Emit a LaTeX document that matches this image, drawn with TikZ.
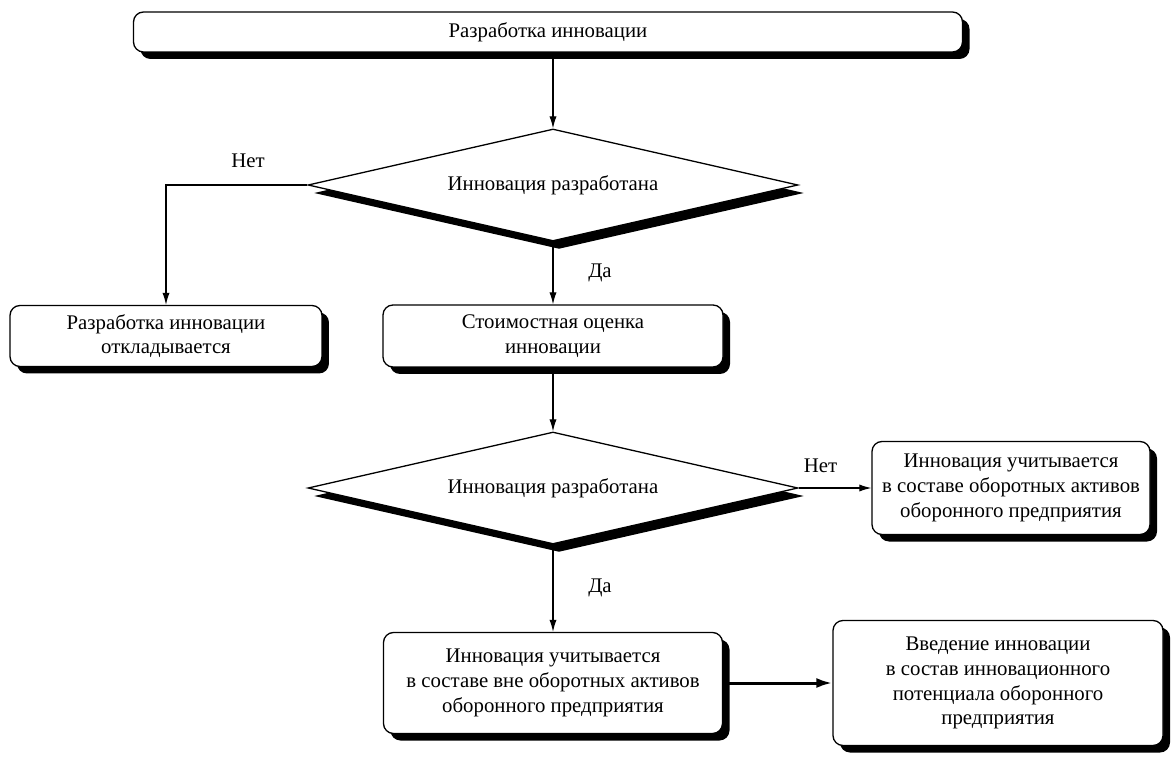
\documentclass[tikz,border=0pt]{standalone}
\usepackage{fontspec}
\setmainfont{Liberation Serif}
\usetikzlibrary{shapes.geometric}
\usetikzlibrary{shadows}
\usetikzlibrary{positioning}
\usetikzlibrary{arrows.meta}

\begin{document}
\begin{tikzpicture}[
            > = {Latex[length=6pt,width=3.6pt]}, % arrow head style
            line width = 0.6pt, % line style
            font = \fontsize{10.4}{12.4}\selectfont
        ]

        \tikzstyle{block}=[
            draw,
            line width = 0.65pt,
            fill = white,
            rounded corners = 5pt,
            align = center,
            drop shadow = {shadow xshift=3.5pt, shadow yshift=-3.5pt, opacity=1, fill=black}
        ]
        \tikzstyle{decision}=[
            draw,
            line width = 0.65pt,
            fill = white,
            diamond,
            aspect = 4.375,
            inner sep = 0pt,
            minimum width = 245pt,
            minimum height = 56pt,
            drop shadow = {shadow xshift=3pt, shadow yshift=-4pt, opacity=1, fill=black}
        ]

        \useasboundingbox (-276.5pt,92.5pt) rectangle (309pt,-287pt);

        % first check
        \node[decision] (D1) at (0,0) {Инновация разработана};
        \node[block, minimum width=414.5pt, minimum height=20pt] (Dev) [above of=D1, node distance=76.5pt, xshift=-2.5pt] {Разработка инновации};

        \draw[->] (Dev.south -| D1.north) -- (D1.north);

        % outcomes of first check
        \node[block, minimum width=170pt, minimum height=31pt] (Cost) [below of=D1, node distance=75.5pt] {Стоимостная оценка\\инновации};
        \node[block, minimum width=156pt, minimum height=30.5pt] (Post) [left of=Cost, node distance=193.5pt] {Разработка инновации\\откладывается};

        \draw[->] (D1.west) -| node[above=5pt, pos=0.21] {Нет} (Post.north);
        \path[->] (D1) edge node[right=14pt] {Да} (Cost);

        % second check
        \node[decision] (D2) [below of=Cost, node distance=76pt] {Инновация разработана};
        \path[->] (Cost) edge node {} (D2);

        \node[block, minimum width=139pt, minimum height=46.5pt] (Cur) [right of=D2, node distance=229pt] {Инновация учитывается\\в составе оборотных активов\\оборонного предприятия};
        \path[->] (D2) edge node[above=4pt, pos=0.3] {Нет} (Cur);

        % outcomes of second check
        \node[block, minimum width=169.5pt, minimum height=50.5pt] (NonCur) [below of=D2, node distance=97.5pt] {Инновация учитывается\\в составе вне оборотных активов\\оборонного предприятия};
        \path[->] (D2) edge node[right=14pt] {Да} (NonCur);

        \node[block, minimum width=165pt, minimum height=62.5pt] (Intro) [right of=NonCur, node distance=222.5pt] {Введение инновации\\в состав инновационного\\потенциала оборонного\\предприятия};
        \path[-{Latex[length=8pt,width=5pt]}, line width=1.5pt] (NonCur) edge node {} (Intro);

\end{tikzpicture}
\end{document}
